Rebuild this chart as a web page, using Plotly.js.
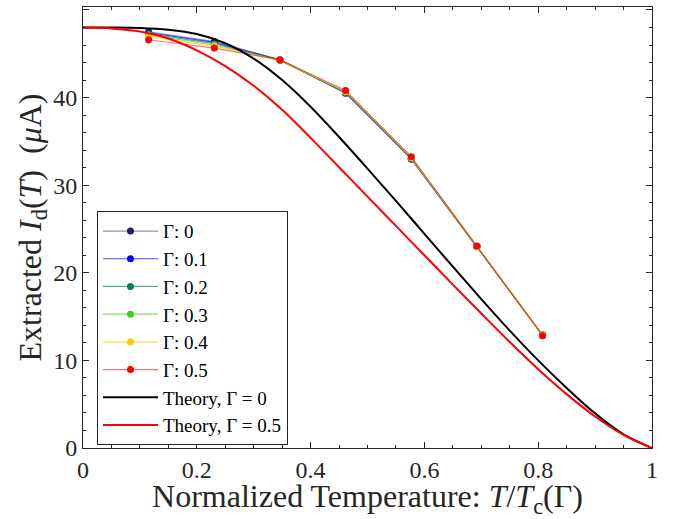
<!DOCTYPE html>
<html>
<head>
<meta charset="utf-8">
<script src="https://cdn.plot.ly/plotly-3.0.1.min.js"></script>
<style>html,body{margin:0;padding:0;background:#fff;}#chart{width:674px;height:519px;}</style>
</head>
<body>
<div id="chart"></div>
<script>
// Measured temperatures (normalized)
const tData = [0.1154, 0.2308, 0.3462, 0.4615, 0.5769, 0.6923, 0.8077];
// Extracted currents for each Gamma
const gammaLabels = ['Γ: 0', 'Γ: 0.1', 'Γ: 0.2', 'Γ: 0.3', 'Γ: 0.4', 'Γ: 0.5'];
const idG0  = [47.5, 46.4, 44.3, 40.5, 33.0, 23.0, 12.9];
const idG01 = [47.4, 46.3, 44.3, 40.55, 33.0, 23.0, 12.9];
const idG02 = [47.3, 46.15, 44.25, 40.6, 33.05, 23.0, 12.9];
const idG03 = [47.15, 46.0, 44.25, 40.65, 33.1, 23.0, 12.9];
const idG04 = [46.95, 45.85, 44.25, 40.7, 33.15, 23.0, 12.9];
const idG05 = [46.6, 45.65, 44.3, 40.8, 33.25, 23.05, 12.8];
const lineColors = ['rgba(70,40,140,0.55)', 'rgba(0,0,255,0.7)', 'rgba(0,128,96,0.65)', 'rgba(80,200,30,0.65)', 'rgba(255,205,0,0.7)', 'rgba(255,0,0,0.55)'];
const markerColors = ['#2e1766', '#0000ff', '#00805f', '#44cc22', '#ffcc00', '#ff0000'];

// Theory curves
const tTheory = [0, 0.05, 0.1, 0.15, 0.2, 0.25, 0.3, 0.35, 0.4, 0.45, 0.5, 0.55, 0.6, 0.65, 0.7, 0.75, 0.8, 0.85, 0.9, 0.95, 1.0];
const theoryG0  = [48, 48, 47.95, 47.75, 47.25, 46.2, 44.45, 42.0, 38.95, 35.5, 31.9, 28.2, 24.45, 20.7, 17.0, 13.4, 10.0, 6.85, 3.95, 1.55, 0];
const theoryG05 = [48, 47.9, 47.55, 46.75, 45.4, 43.6, 41.35, 38.6, 35.4, 32.05, 28.7, 25.35, 22.0, 18.65, 15.35, 12.1, 9.0, 6.15, 3.6, 1.5, 0];

const series = [idG0, idG01, idG02, idG03, idG04, idG05];
const traces = series.map((ys, i) => ({
  x: tData, y: ys, type: 'scatter', mode: 'lines+markers', name: gammaLabels[i],
  line: {color: lineColors[i], width: 1.2},
  marker: {color: markerColors[i], size: 7}
}));
traces.push({x: tTheory, y: theoryG0, type: 'scatter', mode: 'lines', name: 'Theory, Γ = 0',
  line: {color: '#000000', width: 2, shape: 'spline', smoothing: 1}});
traces.push({x: tTheory, y: theoryG05, type: 'scatter', mode: 'lines', name: 'Theory, Γ = 0.5',
  line: {color: '#ff0000', width: 2, shape: 'spline', smoothing: 1}});

const fontFam = 'Liberation Serif, Times New Roman, serif';
const axisCommon = {
  showline: true, linecolor: '#262626', linewidth: 1, mirror: 'allticks',
  ticks: 'inside', ticklen: 6, tickcolor: '#262626', tickwidth: 1,
  showgrid: false, zeroline: false,
  tickfont: {family: fontFam, size: 24, color: '#262626'}
};
const layout = {
  width: 674, height: 519,
  margin: {l: 83, r: 22, t: 7, b: 71},
  paper_bgcolor: '#ffffff', plot_bgcolor: '#ffffff',
  font: {family: fontFam, color: '#262626'},
  xaxis: Object.assign({}, axisCommon, {
    range: [0, 1], dtick: 0.2,
    minor: {dtick: 0.05, ticks: 'inside', ticklen: 3, tickcolor: '#262626', showgrid: false},
    title: {text: 'Normalized Temperature: <i>T</i>/<i>T</i><sub>c</sub>(Γ)', font: {family: fontFam, size: 32, color: '#262626'}, standoff: 0}
  }),
  yaxis: Object.assign({}, axisCommon, {
    range: [0, 50.34], dtick: 10,
    minor: {dtick: 2, ticks: 'inside', ticklen: 3, tickcolor: '#262626', showgrid: false},
    title: {text: 'Extracted <i>I</i><sub>d</sub>(<i>T</i>)  (<i>μ</i>A)', font: {family: fontFam, size: 32, color: '#262626'}, standoff: 2}
  }),
  legend: {
    x: 0.0246, y: 0.537, xanchor: 'left', yanchor: 'top',
    bgcolor: '#ffffff', bordercolor: '#262626', borderwidth: 1,
    font: {family: fontFam, size: 19, color: '#000000'},
    tracegroupgap: 0, itemwidth: 55,
    entrywidth: 205, entrywidthmode: 'pixels'
  },
  showlegend: true
};
Plotly.newPlot('chart', traces, layout, {displayModeBar: false, staticPlot: true});
</script>
</body>
</html>
